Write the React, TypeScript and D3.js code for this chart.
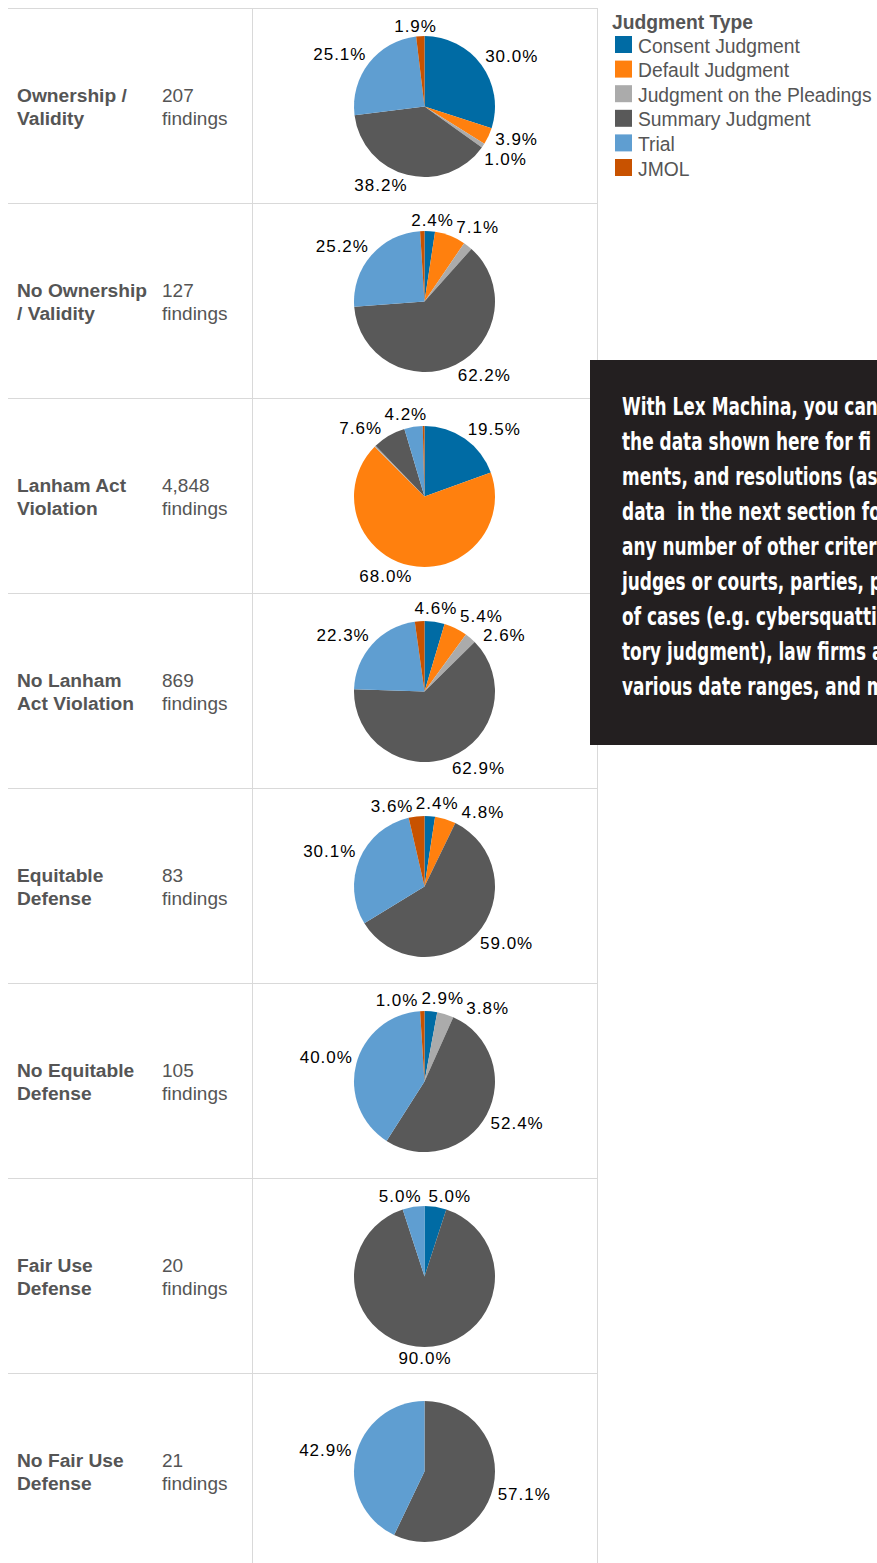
import React, { useMemo } from "react";
import * as d3 from "d3";

// ---------- data ----------
const categoryLines: string[][] = [
  ["Ownership /", "Validity"],
  ["No Ownership", "/ Validity"],
  ["Lanham Act", "Violation"],
  ["No Lanham", "Act Violation"],
  ["Equitable", "Defense"],
  ["No Equitable", "Defense"],
  ["Fair Use", "Defense"],
  ["No Fair Use", "Defense"],
];
const findings = [207, 127, 4848, 869, 83, 105, 20, 21];

const judgmentTypes = [
  "Consent Judgment",
  "Default Judgment",
  "Judgment on the Pleadings",
  "Summary Judgment",
  "Trial",
  "JMOL",
];
const typeColors = ["#006BA4", "#FF800E", "#ABABAB", "#595959", "#5F9ED1", "#C85200"];

const consentJudgment = [30.0, 2.4, 19.5, 4.6, 2.4, 2.9, 5.0, 0];
const defaultJudgment = [3.9, 7.1, 68.0, 5.4, 4.8, 0, 0, 0];
const pleadingsJudgment = [1.0, 2.1, 0.3, 2.6, 0, 3.8, 0, 0];
const summaryJudgment = [38.2, 62.2, 7.6, 62.9, 59.0, 52.4, 90.0, 57.1];
const trialJudgment = [25.1, 25.2, 4.2, 22.3, 30.1, 40.0, 5.0, 42.9];
const jmolJudgment = [1.9, 1.0, 0.4, 2.2, 3.6, 1.0, 0, 0];
const seriesValues = [
  consentJudgment,
  defaultJudgment,
  pleadingsJudgment,
  summaryJudgment,
  trialJudgment,
  jmolJudgment,
];
// [row, type] pairs whose labels are not shown
const unlabeledSlices: [number, number][] = [
  [1, 2],
  [1, 5],
  [2, 2],
  [2, 5],
  [3, 5],
];

const legendTitle = "Judgment Type";
const noteLines = [
  "With Lex Machina, you can",
  "the data shown here for fi",
  "ments, and resolutions (as",
  "data  in the next section fo",
  "any number of other criter",
  "judges or courts, parties, p",
  "of cases (e.g. cybersquattin",
  "tory judgment), law firms a",
  "various date ranges, and m",
];

// ---------- layout ----------
const W = 877;
const H = 1563;
const gridLeft = 8;
const col1 = 252;
const col2 = 597;
const rowTop0 = 8;
const rowH = 195;
const pieR = 70.5;
const labelR = 75;
const labelFont = 17;
const labelSpacing = 1.0;
const capH = 12.2;
const sansFont = '"Liberation Sans", Arial, Helvetica, sans-serif';
const noteFamily = '"Liberation Sans Narrow", "DejaVu Sans Condensed", "DejaVu Sans", sans-serif';
const noteSize = 25;
const noteFirstLineWidth = 256;

let measureCtx: CanvasRenderingContext2D | null = null;
function measure(text: string, font: string): number {
  if (!measureCtx) {
    const c = document.createElement("canvas");
    measureCtx = c.getContext("2d");
  }
  if (!measureCtx) return text.length * 9;
  measureCtx.font = font;
  return measureCtx.measureText(text).width;
}

const clamp = (v: number) => Math.max(-1, Math.min(1, v));

type Lbl = { x: number; y: number; w: number; h: number; theta: number; text: string };

function placeLabels(arcs: d3.PieArcDatum<number>[], cx: number, cy: number, row: number): Lbl[] {
  const labels: Lbl[] = [];
  arcs.forEach((a, i) => {
    if (a.data <= 0) return;
    if (unlabeledSlices.some(([r, t]) => r === row && t === i)) return;
    const theta = (a.startAngle + a.endAngle) / 2;
    const sn = Math.sin(theta);
    const cs = Math.cos(theta);
    const px = cx + labelR * sn;
    const py = cy - labelR * cs;
    const text = d3.format(".1f")(a.data) + "%";
    const w = measure(text, `${labelFont}px ${sansFont}`) + labelSpacing * (text.length - 1);
    const h = capH;
    const sx = clamp(sn * 4);
    const sc = clamp(cs * 4);
    labels.push({ x: px - (w * (1 - sx)) / 2, y: py - (h * (1 + sc)) / 2, w, h, theta, text });
  });
  const padX = 1.5;
  const padY = 3.5;
  for (let it = 0; it < 500; it++) {
    let moved = false;
    for (let i = 0; i < labels.length; i++) {
      for (let j = i + 1; j < labels.length; j++) {
        const a = labels[i];
        const b = labels[j];
        const ox =
          Math.min(a.x + a.w + padX, b.x + b.w + padX) - Math.max(a.x - padX, b.x - padX);
        const oy =
          Math.min(a.y + a.h + padY, b.y + b.h + padY) - Math.max(a.y - padY, b.y - padY);
        if (ox > 0 && oy > 0) {
          let d = b.theta - a.theta;
          while (d > Math.PI) d -= 2 * Math.PI;
          while (d <= -Math.PI) d += 2 * Math.PI;
          const mid = a.theta + d / 2;
          const tx = Math.cos(mid);
          const ty = Math.sin(mid);
          const s = d >= 0 ? 1 : -1;
          const step = 0.5;
          b.x += s * tx * step;
          b.y += s * ty * step;
          a.x -= s * tx * step;
          a.y -= s * ty * step;
          moved = true;
        }
      }
    }
    if (!moved) break;
  }
  return labels;
}

export default function App() {
  const pie = useMemo(
    () =>
      d3
        .pie<number>()
        .sort(null)
        .value((d) => d)
        .startAngle(0)
        .endAngle(2 * Math.PI),
    []
  );
  const arc = useMemo(() => d3.arc<d3.PieArcDatum<number>>().innerRadius(0).outerRadius(pieR), []);
  const rowScale = d3
    .scaleBand<number>()
    .domain(d3.range(categoryLines.length))
    .range([rowTop0, rowTop0 + rowH * categoryLines.length])
    .paddingInner(0)
    .paddingOuter(0);
  const fmtCount = d3.format(",");
  const cx = (col1 + col2) / 2;

  const rows = categoryLines.map((lines, row) => {
    const top = rowScale(row) as number;
    const mid = top + rowH / 2;
    const cy = top + 98.5;
    const vals = seriesValues.map((s) => s[row]);
    const arcs = pie(vals);
    const labels = placeLabels(arcs, cx, cy, row);
    return { lines, row, top, mid, cy, arcs, labels };
  });

  const noteNatural = measure(noteLines[0], `bold ${noteSize}px ${noteFamily}`);
  const noteScale = noteNatural > 0 ? Math.min(1, noteFirstLineWidth / noteNatural) : 0.8;

  return (
    <div
      style={{
        position: "fixed",
        left: 0,
        top: 0,
        width: W,
        height: H,
        overflow: "hidden",
        background: "#fff",
      }}
    >
      <svg width={W} height={H} style={{ display: "block" }}>
        <rect x={0} y={0} width={W} height={H} fill="#ffffff" />
        {/* grid */}
        {rows.map((r) => (
          <line
            key={"h" + r.row}
            x1={gridLeft}
            x2={col2}
            y1={r.top + 0.5}
            y2={r.top + 0.5}
            stroke="#d9d9d9"
            strokeWidth={1}
          />
        ))}
        <line x1={col1 + 0.5} x2={col1 + 0.5} y1={rowTop0} y2={H} stroke="#d9d9d9" strokeWidth={1} />
        <line x1={col2 + 0.5} x2={col2 + 0.5} y1={rowTop0} y2={H} stroke="#d9d9d9" strokeWidth={1} />

        {rows.map((r) => (
          <g key={"row" + r.row}>
            {r.lines.map((ln, k) => (
              <text
                key={"c" + k}
                x={17}
                y={r.mid - 4 + k * 23}
                fontFamily={sansFont}
                fontSize={19.2}
                fontWeight="bold"
                fill="#555555"
              >
                {ln}
              </text>
            ))}
            <text x={162} y={r.mid - 4} fontFamily={sansFont} fontSize={19} fill="#555555">
              {fmtCount(findings[r.row])}
            </text>
            <text x={162} y={r.mid + 19} fontFamily={sansFont} fontSize={19} fill="#555555">
              findings
            </text>
            <g transform={`translate(${cx},${r.cy})`}>
              {r.arcs.map((a, i) =>
                a.data > 0 ? <path key={"s" + i} d={arc(a) || ""} fill={typeColors[i]} /> : null
              )}
            </g>
            {r.labels.map((l, k) => (
              <text
                key={"l" + k}
                x={l.x}
                y={l.y + capH}
                fontFamily={sansFont}
                fontSize={labelFont}
                letterSpacing={labelSpacing}
                fill="#000000"
              >
                {l.text}
              </text>
            ))}
          </g>
        ))}

        {/* legend */}
        <text x={612} y={29} fontFamily={sansFont} fontSize={19.3} fontWeight="bold" fill="#555555">
          {legendTitle}
        </text>
        {judgmentTypes.map((t, i) => (
          <g key={"lg" + i}>
            <rect x={615} y={36 + i * 24.6} width={17} height={17} fill={typeColors[i]} />
            <text x={638} y={52.5 + i * 24.6} fontFamily={sansFont} fontSize={19.3} fill="#555555">
              {t}
            </text>
          </g>
        ))}

        {/* promo box */}
        <rect x={590} y={360} width={W - 590} height={385} fill="#231f20" />
        <g transform={`translate(622,0) scale(${noteScale},1)`}>
          {noteLines.map((ln, i) => (
            <text
              key={"n" + i}
              x={0}
              y={415 + i * 35}
              fontFamily={noteFamily}
              fontSize={noteSize}
              fontWeight="bold"
              fill="#ffffff"
              style={{ whiteSpace: "pre" }}
            >
              {ln}
            </text>
          ))}
        </g>
      </svg>
    </div>
  );
}
